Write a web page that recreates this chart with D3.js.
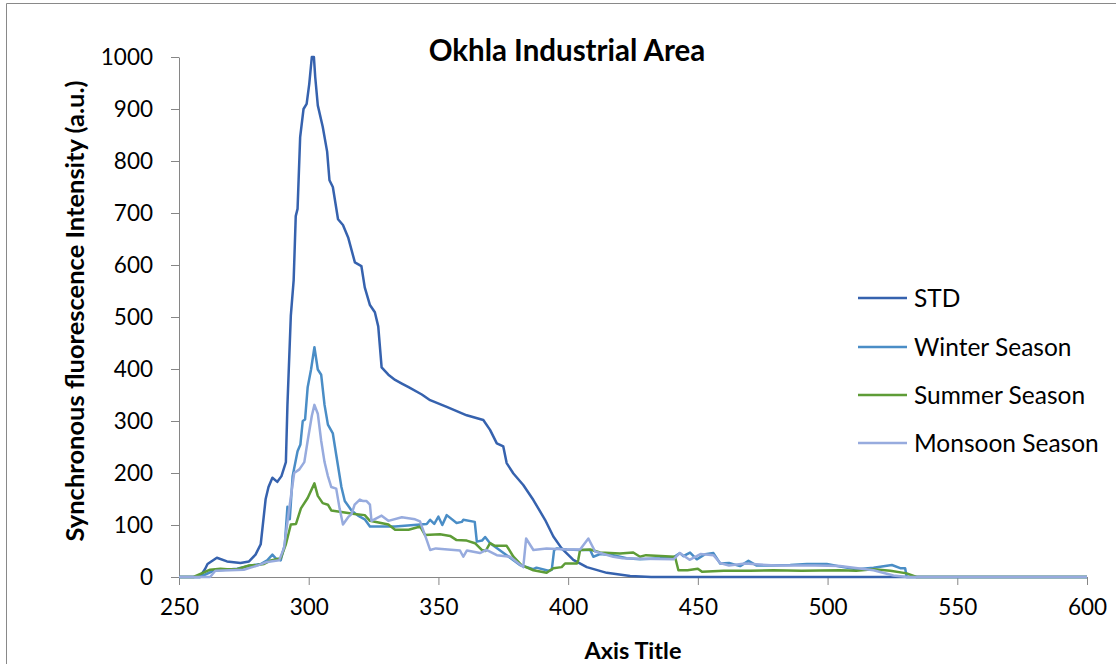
<!DOCTYPE html>
<html><head><meta charset="utf-8">
<script src="https://cdn.jsdelivr.net/npm/d3@7"></script>
<style>
body{margin:0;background:#fff;}
svg{display:block;font-family:Lato,"Open Sans",sans-serif;}
</style></head><body>
<svg id="c" width="1116" height="664"></svg>
<script>
const title = "Okhla Industrial Area";
const xTitle = "Axis Title";
const yTitle = "Synchronous fluorescence Intensity (a.u.)";
const xTicks = [250,300,350,400,450,500,550,600];
const yTicks = [0,100,200,300,400,500,600,700,800,900,1000];
const seriesNames = ["STD","Winter Season","Summer Season","Monsoon Season"];
const seriesColors = ["#3662AE","#4A8DC6","#5E9C37","#97ABDE"];

const stdX = [250,258,260,261,264.6,268.5,273.7,277,279.5,281.5,283.4,284.5,286,287.9,289.5,291.2,291.8,293.1,294.2,295,295.7,296.7,298,299.2,300.2,301.2,302,302.5,303.5,305.4,307.1,308,309.3,311.3,313.2,315.2,317.8,320.3,321.6,323.6,325.5,326.8,328.1,330.7,333.3,335.9,338.5,343.6,346.8,353.2,360.9,367.3,369.9,372.5,375,376.3,378.9,382.7,386.6,391.1,394.3,397.5,402,407.2,414.9,423.9,432,600];
const stdY = [0,0,15,25,37,30,27,30,43,63,150,173,191,183,194,221,331,502,571,694,708,846,900,910,948,1000,1000,962,907,866,818,763,750,688,677,653,605,598,557,523,509,482,403,389,379,372,365,351,340,327,311,302,283,257,251,219,199,177,148,110,78,55,33,19,8,2,0,0];

const winterX = [250,258,263.3,272.4,277.6,281.5,284,286,287.3,289.2,290.8,291.8,292.7,293.8,295.7,296.8,297.7,298.6,299.6,300.9,302.2,303.5,304.8,306.1,307.4,309.3,310.6,312.6,313.9,316.5,319,321.6,323.6,333.3,343,345.5,346.8,348.4,350,351.5,353.2,357,359,359.6,364,364.8,366.8,368,369.9,371.8,376.3,381.4,386.6,387.8,392.4,393.7,394.6,395.7,399.5,404.6,408.5,409.7,412.3,417.4,422.5,427.7,435.4,440.6,443.1,444.4,447,449.6,452.8,456,458.6,462,466.3,469.5,472.7,479,485.6,492,499.7,504.8,511.3,517.7,524.8,528,529.9,530.5,600];
const winterY = [0,0,12,16,22,25,32,43,36,32,63,135,111,194,242,255,300,303,365,399,442,399,389,331,293,276,235,173,146,128,118,111,97,97,101,102,110,102,116,100,119,104,106,110,106,68,70,77,65,58,42,23,15,18,12,14,52,55,53,52,52,39,44,42,36,34,36,38,46,40,47,34,44,46,26,27,21,31,22,22,23,25,25,20,15,18,23,17,17,0,0];

const summerX = [250,255.6,262,266,268.5,272.4,277,280.2,282.8,285.4,289.2,291.2,293.1,295.1,297,299.6,302.2,303.5,305.4,307.4,308.7,312.6,317.7,321.6,323.6,330.7,333.3,338.5,343,344.8,350.6,354.5,357,360.9,364.1,366.7,368.2,369.9,371.8,376.3,378.9,382,386.6,391.7,394.3,397.5,398.8,403.4,403.9,404.6,408.5,412.3,420,425.1,427.7,430,441.2,442.5,446,450,451.6,460,470,479,490,504.8,511,517.7,524.2,530.5,534.3,600];
const summerY = [0,0,14,16,15,15,22,23,25,32,36,63,101,102,132,152,180,156,142,139,128,125,121,119,108,101,91,91,97,81,82,79,71,70,65,52,50,65,60,60,39,23,13,8,17,19,26,26,33,52,53,47,45,47,39,42,39,13,13,16,10,12,12,13,12,13,12,15,12,7,0,0];

const monsoonX = [250,262,264,275,277.6,280.2,284,288.6,290.5,292.5,294.4,296.4,298.3,299.6,301.2,302.2,303.5,304.8,306.1,307.4,308.7,310.6,311.9,313.2,315.2,316.5,317.7,319.7,321,322.3,323.6,324.2,328.1,330.7,335.9,341,342.9,345.5,346.8,349,358.3,359.6,361,366,368.5,372.5,377.6,382.7,383.8,386.6,391.7,399.5,404.6,407.8,410.4,417.4,421,427.7,440.6,443,446.8,451,456,458.6,462,468.2,480,495,504.8,517.7,525.4,530.5,600];
const monsoonY = [0,0,12,14,18,22,29,32,56,132,200,207,221,262,310,331,314,262,221,194,173,170,132,101,115,121,139,149,146,146,139,108,118,108,115,111,107,71,52,55,51,39,51,46,52,42,39,19,74,52,55,53,53,74,49,39,36,35,34,46,33,44,42,27,22,26,22,22,21,13,3,0,0];

const seriesX = [stdX, winterX, summerX, monsoonX];
const seriesY = [stdY, winterY, summerY, monsoonY];

const svg = d3.select("#c");
svg.append("rect").attr("width",1116).attr("height",664).attr("fill","#fff");
svg.append("path").attr("d","M6.5,664 L6.5,3.5 L1116,3.5").attr("fill","none").attr("stroke","#898989").attr("stroke-width",1);

const x = d3.scaleLinear().domain([250,600]).range([179,1087]);
const y = d3.scaleLinear().domain([0,1000]).range([577,57]);

const axisColor = "#868686";
const gx = svg.append("g").attr("transform","translate(0,577)")
  .call(d3.axisBottom(x).tickValues(xTicks).tickSize(8).tickSizeOuter(0).tickPadding(14).tickFormat(d3.format("d")));
const gy = svg.append("g").attr("transform","translate(179,0)")
  .call(d3.axisLeft(y).tickValues(yTicks).tickSize(8).tickSizeOuter(0).tickPadding(18).tickFormat(d3.format("d")));
[gx,gy].forEach(g=>{
  g.select(".domain").attr("stroke",axisColor);
  g.selectAll(".tick line").attr("stroke",axisColor);
  g.selectAll(".tick text").attr("fill","#000").style("font-size","22.5px").style("font-family","Lato,'Open Sans',sans-serif");
});

const line = d3.line().x(d=>x(d[0])).y(d=>y(d[1]));
seriesX.forEach((xs,i)=>{
  const pts = xs.map((v,j)=>[v, seriesY[i][j]]);
  svg.append("path").datum(pts).attr("d",line).attr("fill","none")
    .attr("stroke",seriesColors[i]).attr("stroke-width",2.5).attr("stroke-linejoin","round");
});

svg.append("text").attr("x",567).attr("y",61).attr("text-anchor","middle")
  .style("font-size","29.5px").style("font-weight","bold").text(title);
svg.append("text").attr("x",633).attr("y",659).attr("text-anchor","middle")
  .style("font-size","23.5px").style("font-weight","bold").text(xTitle);
svg.append("text").attr("transform","translate(84,311) rotate(-90)").attr("text-anchor","middle")
  .style("font-size","25.5px").style("font-weight","bold").text(yTitle);

const legendY = [298,347,395,443];
seriesNames.forEach((n,i)=>{
  svg.append("line").attr("x1",858).attr("x2",907).attr("y1",legendY[i]).attr("y2",legendY[i])
    .attr("stroke",seriesColors[i]).attr("stroke-width",2.5);
  svg.append("text").attr("x",914).attr("y",legendY[i]).attr("dy","0.35em")
    .style("font-size","24.5px").text(n);
});
</script></body></html>
